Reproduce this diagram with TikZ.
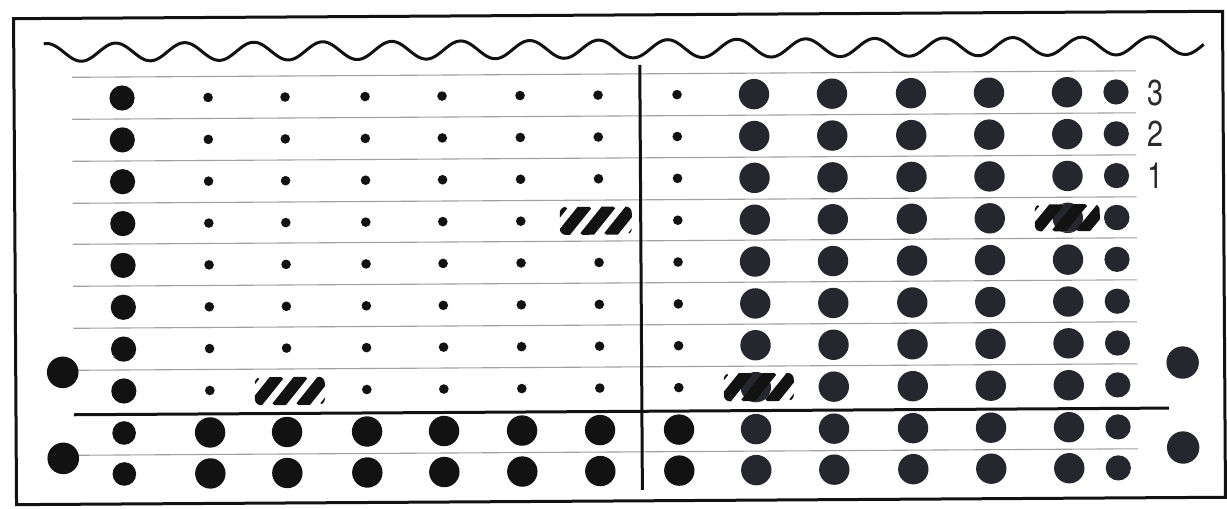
\documentclass[tikz,border=0pt]{standalone}
\usepackage{fontspec}
\setmainfont{TeX Gyre Heros}
\definecolor{ink}{HTML}{121212}
\definecolor{inkb}{HTML}{26262E}
\definecolor{rulegray}{HTML}{A0A0A0}
\definecolor{labelgray}{HTML}{2A2A2A}
\newcommand\hatchblob[4]{% x, y, halfwidth, phase
  \begin{scope}
    \clip[rounded corners=3pt] ({#1-#3},{#2-14}) rectangle ({#1+#3},{#2+14});
    \fill[white] ({#1-#3},{#2-14}) rectangle ({#1+#3},{#2+14});
    \foreach \k in {-3,...,3}
      \draw[hatchstripe] ({#1+(\k)*24+#4-13},{#2+16}) -- ({#1+(\k)*24+#4+13},{#2-16});
  \end{scope}}
\begin{document}
\begin{tikzpicture}[x=0.5pt,y=-0.5pt,
  gridline/.style={draw=rulegray, line width=0.55pt},
  heavyline/.style={draw=ink, line width=1.5pt},
  frameline/.style={draw=ink, line width=1.5pt},
  waveline/.style={draw=ink, line width=1.5pt},
  hatchstripe/.style={draw=ink, line width=5.8pt},
  lbl/.style={text=labelgray, font=\fontsize{18}{20}\selectfont, inner sep=0pt}]
\useasboundingbox (0,0) rectangle (1227,509);
\fill[white] (0,0) rectangle (1227,509);
\begin{scope}[rotate around={0.35:(613,255)}]
  % frame
  \draw[frameline] (15,15) rectangle (1224,501);
  % wavy edge
  \draw[waveline] plot[smooth, domain=45:1205, samples=240] (\x,{49-9*cos((\x-117)/69*360)});
  % thin grid lines
  \foreach \y in {74,116,158,200,241,283,325,367}
    \draw[gridline] (73,\y) -- (1137,\y);
  \draw[gridline] (62,452) -- (1137,452);
  % heavy lines
  \coordinate (hl) at (73,411.5);
  \coordinate (hr) at (1168,411.5);
  \coordinate (vt) at (641,65);
  \coordinate (vb) at (641,490);
  \draw[heavyline] (hl) -- (hr);
  \draw[heavyline] (vt) -- (vb);
  % upper eight rows
  \foreach \y in {95,136.9,178.7,220.6,262.4,304.3,346.1,388}{
    \fill[ink] (123,\y) circle[radius=6.3pt];
    \foreach \x in {209,286,366,443,521,599,678}
      \fill[ink] (\x,\y) circle[radius=2.4pt];
    \foreach \x in {755,833,912,990,1068}
      \fill[inkb] (\x,\y) circle[radius=7.6pt];
    \fill[inkb] (1117,\y) circle[radius=6.3pt];
  }
  % two bottom rows
  \foreach \y in {430,471}{
    \fill[ink] (123,\y) circle[radius=5.9pt];
    \foreach \x in {209,286,366,443,521,599,678}
      \fill[ink] (\x,\y) circle[radius=7.6pt];
    \foreach \x in {755,833,912,990,1068}
      \fill[inkb] (\x,\y) circle[radius=7.6pt];
    \fill[inkb] (1117,\y) circle[radius=6.3pt];
  }
  % side circles
  \fill[ink] (62,369) circle[radius=7.9pt];
  \fill[ink] (62,455) circle[radius=7.9pt];
  \fill[inkb] (1182,366) circle[radius=8.1pt];
  \fill[inkb] (1182,451) circle[radius=8.1pt];
  % hatched blobs
  \hatchblob{596}{220.6}{36}{2}
  \hatchblob{289}{389}{35}{0}
  \begin{scope}
    \clip[rounded corners=3pt] (723,374) rectangle (793,402);
    \fill[white] (723,374) rectangle (793,402);
    \fill[inkb] (755,388) circle[radius=7.6pt];
    \foreach \k in {-3,...,3}
      \draw[hatchstripe] ({758+(\k)*24-13},404) -- ({758+(\k)*24+13},372);
  \end{scope}
  \begin{scope}
    \clip[rounded corners=3pt] (1035,207) rectangle (1100,234);
    \fill[white] (1035,207) rectangle (1100,234);
    \fill[inkb] (1068,220.6) circle[radius=7.6pt];
    \foreach \k in {-3,...,3}
      \draw[hatchstripe] ({1070+(\k)*24-13},236) -- ({1070+(\k)*24+13},205);
  \end{scope}
  \fill[inkb] (1117,220.6) circle[radius=6.3pt];
  % labels
  \node[lbl, anchor=west] (l3) at (1148,96) {\scalebox{0.8}[1]{3}};
  \node[lbl, anchor=west] (l2) at (1148,137) {\scalebox{0.8}[1]{2}};
  \node[lbl, anchor=west] (l1) at (1148,179) {\scalebox{0.8}[1]{1}};
\end{scope}
\end{tikzpicture}
\end{document}
